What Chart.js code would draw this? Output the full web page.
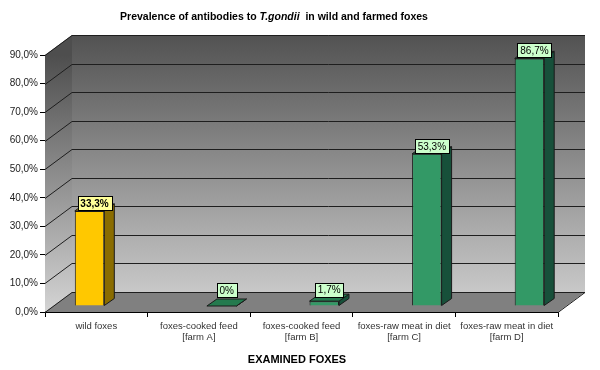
<!DOCTYPE html>
<html>
<head>
<meta charset="utf-8">
<script src="https://cdn.jsdelivr.net/npm/chart.js@4"></script>
<style>
  body { margin: 0; background: #fff; }
  canvas { display: block; }
</style>
</head>
<body>
<canvas id="myChart" width="600" height="370"></canvas>
<script>
// data
const categories = [
    ['wild foxes'],
    ['foxes-cooked feed', '[farm A]'],
    ['foxes-cooked feed', '[farm B]'],
    ['foxes-raw meat in diet', '[farm C]'],
    ['foxes-raw meat in diet', '[farm D]']
];
const wildValues = [33.3, null, null, null, null];
const farmedValues = [null, 0, 1.7, 53.3, 86.7];
const yTicks = [0, 10, 20, 30, 40, 50, 60, 70, 80, 90];

const FONT = 'Arial, "Liberation Sans", sans-serif';
const WALL_DX = 27, WALL_DY = -20;   // depth of the 3d box
const BAR_SHIFT_X = 8, BAR_SHIFT_Y = -6; // bars sit a bit inside the box
const BAR_DX = 10, BAR_DY = -7;      // depth of each bar

function fmt(v) {
    if (v === 0) return '0%';
    return v.toFixed(1).replace('.', ',') + '%';
}

const box3d = {
    id: 'box3d',
    beforeDatasetsDraw(chart) {
        const ctx = chart.ctx;
        const a = chart.chartArea;
        const y = chart.scales.y;
        const top = y.getPixelForValue(90), bot = y.getPixelForValue(0);
        ctx.save();
        // back wall
        let g = ctx.createLinearGradient(0, top + WALL_DY, 0, bot + WALL_DY);
        g.addColorStop(0, '#525252');
        g.addColorStop(1, '#c8c8c8');
        ctx.fillStyle = g;
        ctx.fillRect(a.left + WALL_DX, top + WALL_DY, a.right - a.left, bot - top);
        // left wall
        g = ctx.createLinearGradient(0, top, 0, bot);
        g.addColorStop(0, '#4e4e4e');
        g.addColorStop(1, '#d4d4d4');
        ctx.fillStyle = g;
        ctx.beginPath();
        ctx.moveTo(a.left, bot);
        ctx.lineTo(a.left, top);
        ctx.lineTo(a.left + WALL_DX, top + WALL_DY);
        ctx.lineTo(a.left + WALL_DX, bot + WALL_DY);
        ctx.closePath();
        ctx.fill();
        // floor
        ctx.fillStyle = '#808080';
        ctx.beginPath();
        ctx.moveTo(a.left, bot);
        ctx.lineTo(a.right, bot);
        ctx.lineTo(a.right + WALL_DX, bot + WALL_DY);
        ctx.lineTo(a.left + WALL_DX, bot + WALL_DY);
        ctx.closePath();
        ctx.fill();
        // gridlines on the walls
        ctx.strokeStyle = '#1e1e1e';
        ctx.lineWidth = 1;
        yTicks.forEach(t => {
            const py = Math.round(y.getPixelForValue(t)) + 0.5;
            ctx.beginPath();
            ctx.moveTo(a.left, py);
            ctx.lineTo(a.left + WALL_DX, py + WALL_DY);
            ctx.lineTo(a.right + WALL_DX, py + WALL_DY);
            ctx.stroke();
        });
        // right edge of the floor
        ctx.beginPath();
        ctx.moveTo(a.right, bot + 0.5);
        ctx.lineTo(a.right + WALL_DX, bot + WALL_DY + 0.5);
        ctx.stroke();
        ctx.restore();

        ctx.save();
        ctx.translate(BAR_SHIFT_X, BAR_SHIFT_Y);
    },
    afterDatasetsDraw(chart) {
        const ctx = chart.ctx;
        const labels = [];
        chart.data.datasets.forEach((ds, di) => {
            const meta = chart.getDatasetMeta(di);
            meta.data.forEach((bar, i) => {
                const v = ds.data[i];
                if (v === null) return;
                const p = bar.getProps(['x', 'y', 'base', 'width'], true);
                const l = p.x - p.width / 2, r = p.x + p.width / 2;
                ctx.lineWidth = 1;
                ctx.strokeStyle = '#1a1a1a';
                // side face
                ctx.fillStyle = ds.sideColor;
                ctx.beginPath();
                ctx.moveTo(r, p.y);
                ctx.lineTo(r + BAR_DX, p.y + BAR_DY);
                ctx.lineTo(r + BAR_DX, p.base + BAR_DY);
                ctx.lineTo(r, p.base);
                ctx.closePath();
                ctx.fill();
                ctx.stroke();
                // top face
                ctx.fillStyle = ds.topColor;
                ctx.beginPath();
                ctx.moveTo(l, p.y);
                ctx.lineTo(l + BAR_DX, p.y + BAR_DY);
                ctx.lineTo(r + BAR_DX, p.y + BAR_DY);
                ctx.lineTo(r, p.y);
                ctx.closePath();
                ctx.fill();
                ctx.stroke();
                labels.push({
                    text: fmt(v),
                    x: p.x + BAR_DX / 2,
                    y: Math.min(p.y - 8, p.base - 16),
                    fill: ds.labelFill,
                    bold: ds.labelBold
                });
            });
        });
        // value labels
        labels.forEach(lb => {
            ctx.font = (lb.bold ? 'bold ' : '') + '10px ' + FONT;
            const w = Math.ceil(ctx.measureText(lb.text).width) + 5;
            const h = 14;
            const bx = Math.round(lb.x - w / 2) + 0.5, by = Math.round(lb.y - h / 2) + 0.5;
            ctx.fillStyle = lb.fill;
            ctx.fillRect(bx, by, w, h);
            ctx.strokeStyle = '#000';
            ctx.strokeRect(bx, by, w, h);
            ctx.fillStyle = '#000';
            ctx.textAlign = 'center';
            ctx.textBaseline = 'middle';
            ctx.fillText(lb.text, lb.x, lb.y + 1);
        });
        ctx.restore();
    },
    afterDraw(chart) {
        const ctx = chart.ctx;
        ctx.save();
        ctx.fillStyle = '#000';
        ctx.textBaseline = 'middle';
        // title with italic species name
        const parts = [
            ['bold 10.5px ' + FONT, 'Prevalence of antibodies to '],
            ['italic bold 10.5px ' + FONT, 'T.gondii'],
            ['bold 10.5px ' + FONT, '  in wild and farmed foxes']
        ];
        let total = 0;
        parts.forEach(pt => { ctx.font = pt[0]; total += ctx.measureText(pt[1]).width; });
        let tx = 274 - total / 2;
        ctx.textAlign = 'left';
        parts.forEach(pt => {
            ctx.font = pt[0];
            ctx.fillText(pt[1], tx, 17);
            tx += ctx.measureText(pt[1]).width;
        });
        // x axis title
        ctx.font = 'bold 11px ' + FONT;
        ctx.textAlign = 'center';
        ctx.fillText('EXAMINED FOXES', 297, 360);
        ctx.restore();
    }
};

const ctx = document.getElementById('myChart').getContext('2d');
const myChart = new Chart(ctx, {
    type: 'bar',
    data: {
        labels: categories,
        datasets: [{
            label: 'wild foxes',
            data: wildValues,
            backgroundColor: '#ffc800',
            borderColor: '#1a1a1a',
            borderWidth: 1,
            sideColor: '#8a6c00',
            topColor: '#c79c00',
            labelFill: '#ffff99',
            labelBold: true
        }, {
            label: 'farmed foxes',
            data: farmedValues,
            backgroundColor: '#339966',
            borderColor: '#1a1a1a',
            borderWidth: 1,
            sideColor: '#17503a',
            topColor: '#247a4e',
            labelFill: '#ccffcc',
            labelBold: false
        }]
    },
    options: {
        responsive: false,
        animation: false,
        categoryPercentage: 0.575,
        barPercentage: 1,
        layout: {
            padding: { left: 0, right: 42, top: 55, bottom: 0 }
        },
        scales: {
            x: {
                afterFit: s => { s.height = 58; },
                grid: {
                    drawOnChartArea: false,
                    drawTicks: true,
                    tickLength: 5,
                    color: '#000'
                },
                border: { display: true, color: '#000' },
                ticks: {
                    color: '#333',
                    padding: 3,
                    maxRotation: 0,
                    autoSkip: false,
                    font: { family: FONT, size: 9.5, lineHeight: 1.25 }
                }
            },
            y: {
                min: 0,
                max: 90,
                afterFit: s => { s.width = 45; },
                afterBuildTicks: s => { s.ticks = yTicks.map(v => ({ value: v })); },
                grid: {
                    drawOnChartArea: false,
                    drawTicks: true,
                    tickLength: 5,
                    color: '#000'
                },
                border: { display: true, color: '#000' },
                ticks: {
                    color: '#222',
                    padding: 2,
                    font: { family: FONT, size: 10 },
                    callback: v => v.toFixed(1).replace('.', ',') + '%'
                }
            }
        },
        plugins: {
            legend: { display: false },
            tooltip: { enabled: false }
        }
    },
    plugins: [box3d]
});
</script>
</body>
</html>
